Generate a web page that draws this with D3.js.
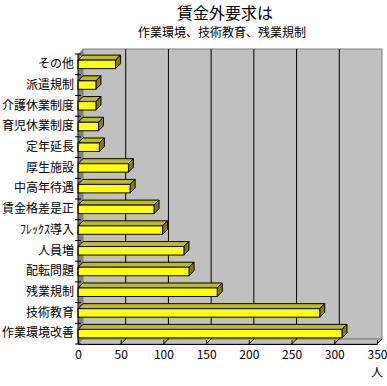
<!DOCTYPE html>
<html lang="ja">
<head>
    <meta charset="UTF-8">
    <title>賃金外要求は</title>
    <style>
        body {
            margin: 0;
            background-color: #fff;
        }

        #chart {
            display: block;
        }

        text {
            font-family: "Noto Sans CJK JP", "Noto Sans", sans-serif;
            fill: #000;
        }
    </style>
</head>
<body>
    <svg id="chart" width="387" height="386"></svg>

    <script src="https://cdnjs.cloudflare.com/ajax/libs/d3/7.8.5/d3.min.js"></script>
    <script>
        // categories from top to bottom, as listed on the chart
        const categories = [
            'その他', '派遣規制', '介護休業制度', '育児休業制度', '定年延長',
            '厚生施設', '中高年待遇', '賃金格差是正', 'ﾌﾚｯｸｽ導入', '人員増',
            '配転問題', '残業規制', '技術教育', '作業環境改善'
        ];
        const counts = [44, 21, 21, 24, 25, 59, 61, 89, 99, 124, 130, 163, 283, 309];
        const ticks = [0, 50, 100, 150, 200, 250, 300, 350];
        const titleText = '賃金外要求は';
        const subtitleText = '作業環境、技術教育、残業規制';
        const unitText = '人';

        const DEPTH = 5;   // 3d offset, px right and up
        const BAR_H = 8.5;

        let svg = d3.select('#chart');

        let x = d3.scaleLinear()
            .domain([0, 350])
            .range([78, 377]);

        let y = d3.scaleBand()
            .domain(categories)
            .range([54, 344]);

        const plotL = x(0), plotR = x(350);
        const plotT = y.range()[0], plotB = y.range()[1];

        // back wall
        svg.append('rect')
            .attr('x', plotL + DEPTH)
            .attr('y', plotT - DEPTH)
            .attr('width', plotR - plotL)
            .attr('height', plotB - plotT)
            .attr('fill', '#c0c0c0')
            .attr('stroke', '#808080');

        // floor
        svg.append('polygon')
            .attr('points', [[plotL, plotB], [plotR, plotB], [plotR + DEPTH, plotB - DEPTH], [plotL + DEPTH, plotB - DEPTH]].join(' '))
            .attr('fill', '#c0c0c0')
            .attr('stroke', '#808080');

        // left side wall
        svg.append('polygon')
            .attr('points', [[plotL, plotT], [plotL + DEPTH, plotT - DEPTH], [plotL + DEPTH, plotB - DEPTH], [plotL, plotB]].join(' '))
            .attr('fill', '#808080');

        // gridlines on the back wall and floor
        let grid = ticks.filter(t => t > 0 && t < 350);
        svg.selectAll('line.grid')
            .data(grid)
            .enter()
            .append('line')
            .attr('class', 'grid')
            .attr('x1', d => x(d) + DEPTH)
            .attr('x2', d => x(d) + DEPTH)
            .attr('y1', plotT - DEPTH)
            .attr('y2', plotB - DEPTH)
            .attr('stroke', '#000');

        svg.selectAll('line.floor')
            .data(ticks.filter(t => t > 0))
            .enter()
            .append('line')
            .attr('class', 'floor')
            .attr('x1', d => x(d))
            .attr('x2', d => x(d) + DEPTH)
            .attr('y1', plotB)
            .attr('y2', plotB - DEPTH)
            .attr('stroke', '#000');

        // category ticks on the side wall
        let bounds = categories.map(c => y(c)).concat([plotB]);
        svg.selectAll('line.cat')
            .data(bounds)
            .enter()
            .append('line')
            .attr('class', 'cat')
            .attr('x1', plotL - 3)
            .attr('x2', plotL + 3)
            .attr('y1', d => d)
            .attr('y2', d => d)
            .attr('stroke', '#000');

        // bars
        let bar = svg.selectAll('g.bar')
            .data(categories.map((c, i) => ({ name: c, value: counts[i] })))
            .enter()
            .append('g')
            .attr('class', 'bar');

        bar.each(function (d) {
            let g = d3.select(this);
            let cy = y(d.name) + y.bandwidth() / 2;
            let y0 = cy - BAR_H / 2, y1 = cy + BAR_H / 2;
            let x0 = x(0), x1 = x(d.value);

            g.append('polygon')
                .attr('points', [[x0, y0], [x0 + DEPTH, y0 - DEPTH], [x1 + DEPTH, y0 - DEPTH], [x1, y0]].join(' '))
                .attr('fill', '#c0c000')
                .attr('stroke', '#000')
                .attr('stroke-linejoin', 'round');

            g.append('polygon')
                .attr('points', [[x1, y0], [x1 + DEPTH, y0 - DEPTH], [x1 + DEPTH, y1 - DEPTH], [x1, y1]].join(' '))
                .attr('fill', '#808000')
                .attr('stroke', '#000')
                .attr('stroke-linejoin', 'round');

            g.append('rect')
                .attr('x', x0)
                .attr('y', y0)
                .attr('width', x1 - x0)
                .attr('height', BAR_H)
                .attr('fill', '#ffff00')
                .attr('stroke', '#000');
        });

        // axes
        svg.append('line')
            .attr('x1', plotL).attr('x2', plotL)
            .attr('y1', plotT).attr('y2', plotB)
            .attr('stroke', '#000');

        let axisX = d3.axisBottom(x)
            .tickValues(ticks)
            .tickSize(0)
            .tickPadding(6);

        let gx = svg.append('g')
            .attr('transform', `translate(0,${plotB})`)
            .call(axisX);
        gx.select('.domain').attr('stroke', '#000');
        gx.selectAll('text')
            .style('font-size', '12px')
            .attr('fill', '#000');
        gx.selectAll('.tick')
            .append('line')
            .attr('y1', 0)
            .attr('y2', -4)
            .attr('stroke', '#000');

        let axisY = d3.axisLeft(y)
            .tickSize(0)
            .tickPadding(4);

        let gy = svg.append('g')
            .attr('transform', `translate(${plotL},0)`)
            .call(axisY);
        gy.select('.domain').remove();
        gy.selectAll('text')
            .style('font-size', '12px')
            .attr('fill', '#000');

        // titles
        svg.append('text')
            .attr('x', 225)
            .attr('y', 18.8)
            .attr('text-anchor', 'middle')
            .style('font-size', '16px')
            .text(titleText);

        svg.append('text')
            .attr('x', 222)
            .attr('y', 37.4)
            .attr('text-anchor', 'middle')
            .style('font-size', '12px')
            .text(subtitleText);

        svg.append('text')
            .attr('x', 377)
            .attr('y', 377)
            .attr('text-anchor', 'middle')
            .style('font-size', '12px')
            .text(unitText);
    </script>
</body>
</html>
